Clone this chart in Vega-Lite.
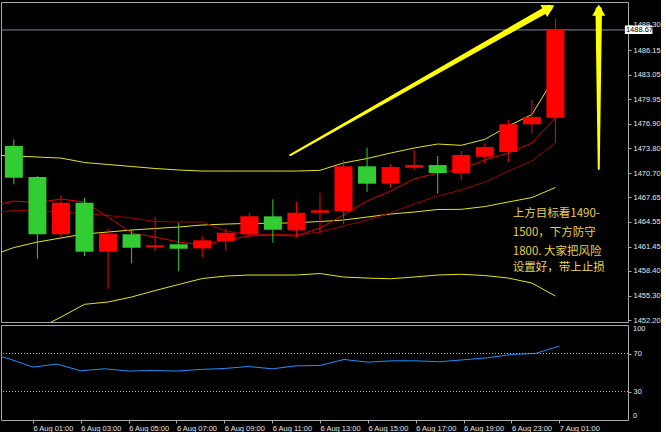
{
  "$schema": "https://vega.github.io/schema/vega-lite/v6.json",
  "background": "#000000",
  "padding": {"left": 0, "top": 1, "right": 0, "bottom": 0},
  "bounds": "flush",
  "spacing": 3,
  "config": {
    "view": {"stroke": "#A8A8A8", "strokeWidth": 1, "fill": "#000000"},
    "axis": {"labelFont": "Liberation Sans", "labelFontSize": 7.5, "labelColor": "#E6E6E6", "tickColor": "#A8A8A8", "domain": false, "grid": false, "labelFlush": false, "labelOverlap": false}
  },
  "datasets": {
    "candles": [
      {"i": 0, "o": 1474.09, "h": 1474.93, "l": 1469.28, "c": 1470.11},
      {"i": 1, "o": 1470.2, "h": 1470.3, "l": 1459.94, "c": 1463.0},
      {"i": 2, "o": 1463.0, "h": 1467.94, "l": 1462.66, "c": 1466.97},
      {"i": 3, "o": 1466.97, "h": 1467.6, "l": 1460.28, "c": 1460.82},
      {"i": 4, "o": 1460.82, "h": 1463.75, "l": 1456.17, "c": 1463.08},
      {"i": 5, "o": 1463.0, "h": 1463.63, "l": 1459.36, "c": 1461.32},
      {"i": 6, "o": 1461.41, "h": 1465.21, "l": 1460.9, "c": 1461.62},
      {"i": 7, "o": 1461.75, "h": 1464.46, "l": 1458.39, "c": 1461.19},
      {"i": 8, "o": 1461.24, "h": 1462.79, "l": 1460.15, "c": 1462.25},
      {"i": 9, "o": 1462.16, "h": 1463.75, "l": 1460.9, "c": 1463.2},
      {"i": 10, "o": 1463.0, "h": 1465.71, "l": 1462.66, "c": 1465.26},
      {"i": 11, "o": 1465.26, "h": 1467.4, "l": 1461.95, "c": 1463.58},
      {"i": 12, "o": 1463.5, "h": 1467.1, "l": 1462.66, "c": 1465.71},
      {"i": 13, "o": 1465.71, "h": 1468.23, "l": 1463.0, "c": 1466.02},
      {"i": 14, "o": 1465.93, "h": 1472.3, "l": 1464.26, "c": 1471.54},
      {"i": 15, "o": 1471.54, "h": 1473.88, "l": 1468.31, "c": 1469.36},
      {"i": 16, "o": 1469.38, "h": 1471.79, "l": 1468.82, "c": 1471.45},
      {"i": 17, "o": 1471.37, "h": 1473.59, "l": 1471.04, "c": 1471.7},
      {"i": 18, "o": 1471.7, "h": 1472.84, "l": 1468.1, "c": 1470.7},
      {"i": 19, "o": 1470.7, "h": 1473.46, "l": 1469.82, "c": 1472.96},
      {"i": 20, "o": 1472.75, "h": 1474.43, "l": 1471.92, "c": 1473.97},
      {"i": 21, "o": 1473.34, "h": 1477.36, "l": 1472.08, "c": 1476.82},
      {"i": 22, "o": 1476.82, "h": 1479.87, "l": 1475.64, "c": 1477.73},
      {"i": 23, "o": 1477.65, "h": 1490.13, "l": 1474.5, "c": 1488.67}
    ],
    "ind": [
      {"i": -1, "up": 1472.97, "mid": 1460.28, "lo": 1448.1, "fast": 1466.55, "slow": 1465.55, "rsi": 71.0},
      {"i": 0, "up": 1472.84, "mid": 1461.34, "lo": 1449.6, "fast": 1467.18, "slow": 1466.02, "rsi": 64.5},
      {"i": 1, "up": 1472.71, "mid": 1462.03, "lo": 1451.11, "fast": 1466.99, "slow": 1465.99, "rsi": 55.7},
      {"i": 2, "up": 1472.58, "mid": 1462.54, "lo": 1452.61, "fast": 1467.43, "slow": 1465.8, "rsi": 58.8},
      {"i": 3, "up": 1472.02, "mid": 1463.04, "lo": 1454.21, "fast": 1467.06, "slow": 1465.61, "rsi": 51.8},
      {"i": 4, "up": 1471.77, "mid": 1463.29, "lo": 1454.5, "fast": 1465.17, "slow": 1465.36, "rsi": 53.9},
      {"i": 5, "up": 1471.52, "mid": 1463.54, "lo": 1455.13, "fast": 1463.16, "slow": 1465.05, "rsi": 51.5},
      {"i": 6, "up": 1471.27, "mid": 1463.73, "lo": 1455.94, "fast": 1462.66, "slow": 1464.61, "rsi": 52.1},
      {"i": 7, "up": 1471.08, "mid": 1463.92, "lo": 1456.7, "fast": 1462.03, "slow": 1464.55, "rsi": 51.5},
      {"i": 8, "up": 1470.95, "mid": 1464.17, "lo": 1457.45, "fast": 1461.66, "slow": 1464.55, "rsi": 53.2},
      {"i": 9, "up": 1470.95, "mid": 1464.29, "lo": 1457.76, "fast": 1462.29, "slow": 1463.42, "rsi": 54.2},
      {"i": 10, "up": 1470.95, "mid": 1464.38, "lo": 1457.89, "fast": 1462.79, "slow": 1463.0, "rsi": 56.3},
      {"i": 11, "up": 1470.95, "mid": 1464.38, "lo": 1457.89, "fast": 1462.91, "slow": 1463.0, "rsi": 53.9},
      {"i": 12, "up": 1470.95, "mid": 1464.46, "lo": 1457.89, "fast": 1462.79, "slow": 1462.91, "rsi": 57.0},
      {"i": 13, "up": 1471.04, "mid": 1464.61, "lo": 1458.08, "fast": 1463.79, "slow": 1463.29, "rsi": 57.4},
      {"i": 14, "up": 1471.96, "mid": 1464.8, "lo": 1457.64, "fast": 1465.43, "slow": 1464.04, "rsi": 63.7},
      {"i": 15, "up": 1472.52, "mid": 1465.17, "lo": 1457.51, "fast": 1467.18, "slow": 1464.8, "rsi": 60.9},
      {"i": 16, "up": 1473.21, "mid": 1465.55, "lo": 1457.42, "fast": 1468.44, "slow": 1465.68, "rsi": 62.3},
      {"i": 17, "up": 1473.84, "mid": 1465.8, "lo": 1457.64, "fast": 1469.95, "slow": 1466.81, "rsi": 62.3},
      {"i": 18, "up": 1474.34, "mid": 1466.12, "lo": 1457.89, "fast": 1470.7, "slow": 1467.81, "rsi": 61.3},
      {"i": 19, "up": 1474.18, "mid": 1466.14, "lo": 1457.98, "fast": 1471.2, "slow": 1468.57, "rsi": 63.4},
      {"i": 20, "up": 1474.93, "mid": 1466.49, "lo": 1457.83, "fast": 1472.33, "slow": 1469.57, "rsi": 65.5},
      {"i": 21, "up": 1476.6, "mid": 1467.06, "lo": 1457.51, "fast": 1473.21, "slow": 1470.95, "rsi": 69.0},
      {"i": 22, "up": 1478.05, "mid": 1467.62, "lo": 1456.88, "fast": 1474.47, "slow": 1472.21, "rsi": 70.0},
      {"i": 23, "up": 1482.88, "mid": 1468.88, "lo": 1455.25, "fast": 1477.65, "slow": 1474.51, "rsi": 77.8}
    ],
    "arrows": [
      {"a": "diag", "i": 11.74, "p": 1472.96, "part": "tail"},
      {"a": "diag", "i": 22.73, "p": 1491.42, "part": "head"},
      {"a": "vert", "i": 24.84, "p": 1471.2, "part": "tail"},
      {"a": "vert", "i": 24.84, "p": 1491.17, "part": "head"}
    ],
    "notes": [
      {"i": 21.19, "p": 1465.55, "txt": "上方目标看1490-"},
      {"i": 21.19, "p": 1463.16, "txt": "1500，下方防守"},
      {"i": 21.19, "p": 1460.77, "txt": "1800. 大家把风险"},
      {"i": 21.19, "p": 1458.77, "txt": "设置好，带上止损"}
    ],
    "last": [
      {"i": 25.95, "i2": 27.12, "p": 1488.67, "top": 1489.23, "bot": 1488.16, "lab": "1488.67"}
    ],
    "levels": [{"lv": 30}, {"lv": 70}],
    "rsiends": [
      {"i": 26.08, "v": 95.3, "lab": "100"},
      {"i": 26.08, "v": 4.4, "lab": "0"}
    ]
  },
  "vconcat": [
    {
      "width": 627,
      "height": 320,
      "layer": [
        {
          "data": {"name": "ind"},
          "mark": {"type": "line", "color": "#E6E614", "strokeWidth": 1, "clip": true},
          "encoding": {
            "x": {"field": "i", "type": "quantitative", "scale": {"domain": [-0.334, 25.87], "nice": false, "zero": false}, "axis": null},
            "y": {"field": "up", "type": "quantitative", "scale": {"domain": [1451.99, 1492.18], "nice": false, "zero": false},
                  "axis": {"orient": "right", "title": null, "values": [1452.2, 1455.3, 1458.4, 1461.45, 1464.55, 1467.65, 1470.7, 1473.8, 1476.9, 1479.95, 1483.05, 1486.15, 1489.3], "tickCount": 40, "format": ".2f", "tickSize": 3, "labelPadding": 2, "labelOverlap": false, "labelFlush": false}}
          }
        },
        {
          "data": {"name": "ind"},
          "mark": {"type": "line", "color": "#E6E614", "strokeWidth": 1, "clip": true},
          "encoding": {
            "x": {"field": "i", "type": "quantitative"},
            "y": {"field": "mid", "type": "quantitative"}
          }
        },
        {
          "data": {"name": "ind"},
          "mark": {"type": "line", "color": "#E6E614", "strokeWidth": 1, "clip": true},
          "encoding": {
            "x": {"field": "i", "type": "quantitative"},
            "y": {"field": "lo", "type": "quantitative"}
          }
        },
        {
          "data": {"name": "ind"},
          "mark": {"type": "line", "color": "#9E0000", "strokeWidth": 1, "clip": true},
          "encoding": {
            "x": {"field": "i", "type": "quantitative"},
            "y": {"field": "slow", "type": "quantitative"}
          }
        },
        {
          "data": {"name": "ind"},
          "mark": {"type": "line", "color": "#E00000", "strokeWidth": 1, "clip": true},
          "encoding": {
            "x": {"field": "i", "type": "quantitative"},
            "y": {"field": "fast", "type": "quantitative"}
          }
        },
        {
          "data": {"name": "last"},
          "mark": {"type": "rule", "color": "#7F8A96", "strokeWidth": 1},
          "encoding": {
            "y": {"field": "p", "type": "quantitative"}
          }
        },
        {
          "data": {"name": "candles"},
          "mark": {"type": "rule", "strokeWidth": 1, "clip": true},
          "encoding": {
            "x": {"field": "i", "type": "quantitative"},
            "y": {"field": "l", "type": "quantitative"},
            "y2": {"field": "h"},
            "color": {"condition": {"test": "datum.c > datum.o", "value": "#FF0000"}, "value": "#32CD32"}
          }
        },
        {
          "data": {"name": "candles"},
          "mark": {"type": "bar", "size": 18, "clip": true},
          "encoding": {
            "x": {"field": "i", "type": "quantitative"},
            "y": {"field": "o", "type": "quantitative"},
            "y2": {"field": "c"},
            "color": {"condition": {"test": "datum.c > datum.o", "value": "#FF0000"}, "value": "#32CD32"}
          }
        },
        {
          "data": {"name": "arrows"},
          "mark": {"type": "trail", "color": "#FFFF00", "clip": true},
          "encoding": {
            "x": {"field": "i", "type": "quantitative"},
            "y": {"field": "p", "type": "quantitative"},
            "detail": {"field": "a"},
            "size": {"field": "part", "type": "ordinal", "scale": {"domain": ["tail", "head"], "range": [2, 6.5]}, "legend": null}
          }
        },
        {
          "data": {"name": "arrows"},
          "transform": [{"filter": "datum.a == 'diag' && datum.part == 'head'"}],
          "mark": {"type": "point", "shape": "triangle-up", "filled": true, "color": "#FFFF00", "opacity": 1, "angle": 61, "size": 190},
          "encoding": {
            "x": {"field": "i", "type": "quantitative"},
            "y": {"field": "p", "type": "quantitative"}
          }
        },
        {
          "data": {"name": "arrows"},
          "transform": [{"filter": "datum.a == 'vert' && datum.part == 'head'"}],
          "mark": {"type": "point", "shape": "triangle-up", "filled": true, "color": "#FFFF00", "opacity": 1, "angle": 0, "size": 170},
          "encoding": {
            "x": {"field": "i", "type": "quantitative"},
            "y": {"field": "p", "type": "quantitative"}
          }
        },
        {
          "data": {"name": "notes"},
          "mark": {"type": "text", "align": "left", "baseline": "middle", "font": "Noto Sans CJK SC", "fontSize": 11.5, "color": "#E6D24A"},
          "encoding": {
            "x": {"field": "i", "type": "quantitative"},
            "y": {"field": "p", "type": "quantitative"},
            "text": {"field": "txt"}
          }
        },
        {
          "data": {"name": "last"},
          "mark": {"type": "rect", "color": "#FFFFFF"},
          "encoding": {
            "x": {"field": "i", "type": "quantitative"},
            "x2": {"field": "i2"},
            "y": {"field": "top", "type": "quantitative"},
            "y2": {"field": "bot"}
          }
        },
        {
          "data": {"name": "last"},
          "mark": {"type": "text", "align": "left", "baseline": "middle", "font": "Liberation Sans", "fontSize": 7.5, "color": "#000000", "dx": 1},
          "encoding": {
            "x": {"field": "i", "type": "quantitative"},
            "y": {"field": "p", "type": "quantitative"},
            "text": {"field": "lab"}
          }
        }
      ]
    },
    {
      "width": 627,
      "height": 95,
      "layer": [
        {
          "data": {"name": "ind"},
          "mark": {"type": "line", "color": "#1E90FF", "strokeWidth": 1, "clip": true},
          "encoding": {
            "x": {"field": "i", "type": "quantitative", "scale": {"domain": [-0.334, 25.87], "nice": false, "zero": false},
                  "axis": {"orient": "bottom", "title": null, "values": [1, 3, 5, 7, 9, 11, 13, 15, 17, 19, 21, 23], "tickCount": 40, "labelExpr": "['6 Aug 01:00','6 Aug 03:00','6 Aug 05:00','6 Aug 07:00','6 Aug 09:00','6 Aug 11:00','6 Aug 13:00','6 Aug 15:00','6 Aug 17:00','6 Aug 19:00','6 Aug 23:00','7 Aug 01:00'][(datum.value-1)/2]", "tickSize": 3, "labelAlign": "left", "labelBaseline": "top", "labelPadding": 1, "labelDx": 1, "labelOverlap": false, "labelFlush": false}},
            "y": {"field": "rsi", "type": "quantitative", "scale": {"domain": [0, 100], "nice": false, "zero": false},
                  "axis": {"orient": "right", "title": null, "values": [30, 70], "tickCount": 20, "format": "d", "tickSize": 3, "labelPadding": 2, "labelOverlap": false, "labelFlush": false}}
          }
        },
        {
          "data": {"name": "levels"},
          "mark": {"type": "rule", "color": "#B4B4B4", "strokeWidth": 1, "strokeDash": [1, 2]},
          "encoding": {
            "y": {"field": "lv", "type": "quantitative"}
          }
        },
        {
          "data": {"name": "rsiends"},
          "mark": {"type": "text", "align": "left", "baseline": "middle", "font": "Liberation Sans", "fontSize": 7.5, "color": "#E6E6E6"},
          "encoding": {
            "x": {"field": "i", "type": "quantitative"},
            "y": {"field": "v", "type": "quantitative"},
            "text": {"field": "lab"}
          }
        }
      ]
    }
  ]
}
